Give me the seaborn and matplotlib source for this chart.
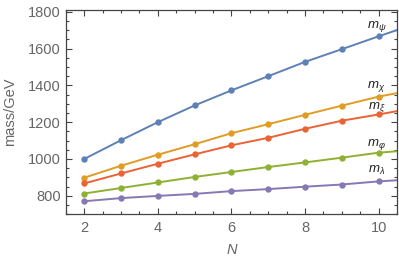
import pandas as pd
import seaborn as sns
import matplotlib.pyplot as plt
from matplotlib.ticker import MultipleLocator

# Masses (GeV); N = 11 only carries the lines to the frame edge
n_vals = [2, 3, 4, 5, 6, 7, 8, 9, 10, 11]
m_psi = [1000, 1102, 1200, 1291, 1373, 1450, 1528, 1597, 1667, 1735]
m_chi = [898, 963, 1023, 1080, 1140, 1189, 1240, 1290, 1339, 1377]
m_xi = [867, 921, 974, 1025, 1074, 1115, 1164, 1208, 1242, 1278]
m_phi = [812, 842, 872, 902, 929, 956, 981, 1007, 1034, 1050]
m_lam = [770, 787, 799, 810, 825, 836, 849, 861, 878, 890]

series = {
    r'$m_\psi$': m_psi,
    r'$m_\chi$': m_chi,
    r'$m_\xi$': m_xi,
    r'$m_\varphi$': m_phi,
    r'$m_\lambda$': m_lam,
}
colors = ['#5E81B5', '#E19C24', '#EB6235', '#8FB032', '#8778B3']
# baseline offset (points) of each curve label above its N = 10 point
label_offsets = [6.3, 6.5, 4.1, 5.0, 5.8]

df = pd.DataFrame([
    {'N': n, 'mass': m, 'particle': name}
    for name, vals in series.items()
    for n, m in zip(n_vals, vals)
])

sns.set_style('ticks')
plt.rcParams['font.family'] = ['Liberation Sans', 'DejaVu Sans']
plt.rcParams['mathtext.fontset'] = 'custom'
plt.rcParams['mathtext.it'] = 'Liberation Sans:italic'
plt.rcParams['mathtext.rm'] = 'Liberation Sans'

gray = '#666666'
fig, ax = plt.subplots(figsize=(3.99, 2.64), dpi=100)
fig.subplots_adjust(left=0.165, right=0.995, top=0.962, bottom=0.189)

sns.lineplot(data=df, x='N', y='mass', hue='particle', palette=colors,
             marker='o', markersize=4.6, markeredgewidth=0, linewidth=1.4,
             legend=False, ax=ax)

for (name, vals), col, off in zip(series.items(), colors, label_offsets):
    ax.annotate(name, xy=(10, vals[8]), xytext=(-1.5, off), textcoords='offset points',
                ha='center', va='baseline', fontsize=9.5, color='#222222')

ax.set_xlim(1.5, 10.5)
ax.set_ylim(700, 1810)
ax.xaxis.set_major_locator(MultipleLocator(2))
ax.xaxis.set_minor_locator(MultipleLocator(0.5))
ax.yaxis.set_major_locator(MultipleLocator(200))
ax.yaxis.set_minor_locator(MultipleLocator(50))
ax.tick_params(which='both', direction='in', top=True, right=True,
               color='#444444', labelcolor=gray, labelsize=10.5, width=0.8)
ax.tick_params(which='major', length=4)
ax.tick_params(which='minor', length=2)
ax.tick_params(axis='x', pad=5)
ax.tick_params(axis='y', pad=3.5)
for sp in ax.spines.values():
    sp.set_color('#444444')
    sp.set_linewidth(0.9)

ax.set_xlabel('N', fontsize=10.5, color=gray, style='italic', labelpad=6)
ax.set_ylabel('mass/GeV', fontsize=10.5, color=gray, labelpad=8)

fig.savefig('out.png', dpi=100)
